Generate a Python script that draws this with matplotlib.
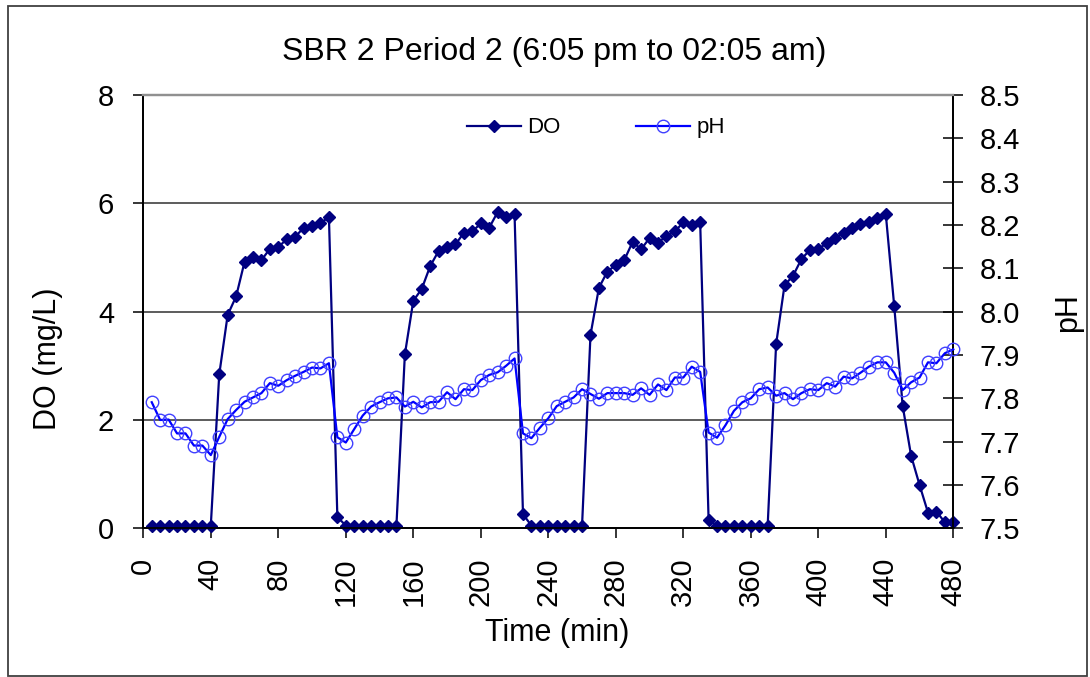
import matplotlib
matplotlib.use("Agg")
import matplotlib.pyplot as plt
from matplotlib.patches import Rectangle
from matplotlib.ticker import FormatStrFormatter

plt.rcParams['font.family'] = ['Liberation Sans', 'DejaVu Sans']

# Sampling times (min), one reading every 5 minutes
time_min = list(range(5, 481, 5))

# Dissolved oxygen (mg/L)
do_mgL = [
    0.05, 0.05, 0.05, 0.05, 0.05, 0.05, 0.05, 0.05,
    2.84, 3.94, 4.28, 4.92, 5.01, 4.95, 5.16, 5.19, 5.34, 5.38, 5.55, 5.59, 5.63, 5.75,
    0.21,
    0.05, 0.05, 0.05, 0.05, 0.05, 0.05, 0.05,
    3.21, 4.20, 4.42, 4.84, 5.12, 5.20, 5.24, 5.46, 5.48, 5.63, 5.55, 5.84, 5.74, 5.80,
    0.26,
    0.05, 0.05, 0.05, 0.05, 0.05, 0.05, 0.05,
    3.57, 4.44, 4.74, 4.86, 4.95, 5.29, 5.15, 5.36, 5.27, 5.40, 5.48, 5.65, 5.60, 5.65,
    0.15,
    0.05, 0.05, 0.05, 0.05, 0.05, 0.05, 0.05,
    3.40, 4.49, 4.66, 4.97, 5.14, 5.16, 5.26, 5.36, 5.46, 5.55, 5.61, 5.66, 5.73, 5.80,
    4.10, 2.26, 1.34, 0.80, 0.29, 0.31, 0.11, 0.12,
]

# pH
ph = [
    7.791, 7.750, 7.751, 7.719, 7.719, 7.691, 7.691, 7.669,
    7.711, 7.752, 7.773, 7.792, 7.802, 7.812, 7.835, 7.829, 7.842, 7.852, 7.861, 7.871, 7.869, 7.881,
    7.710, 7.698, 7.729, 7.760, 7.781, 7.791, 7.800, 7.802,
    7.781, 7.792, 7.779, 7.791, 7.792, 7.814, 7.798, 7.821, 7.819, 7.842, 7.854, 7.860, 7.875, 7.892,
    7.719, 7.708, 7.732, 7.754, 7.782, 7.792, 7.802, 7.821,
    7.810, 7.799, 7.812, 7.812, 7.812, 7.808, 7.823, 7.808, 7.832, 7.819, 7.848, 7.848, 7.873, 7.861,
    7.721, 7.709, 7.738, 7.771, 7.791, 7.800, 7.821, 7.825,
    7.806, 7.812, 7.798, 7.812, 7.821, 7.819, 7.835, 7.827, 7.850, 7.846, 7.859, 7.873, 7.883, 7.883,
    7.859, 7.819, 7.837, 7.848, 7.883, 7.881, 7.904, 7.913,
]

x_ticks = list(range(0, 481, 40))
do_ticks = [0, 2, 4, 6, 8]
ph_ticks = [7.5, 7.6, 7.7, 7.8, 7.9, 8.0, 8.1, 8.2, 8.3, 8.4, 8.5]

W, H = 1090, 677
fig = plt.figure(figsize=(W / 100, H / 100), dpi=100)

# outer chart frame
fig.patches.append(Rectangle((8 / W, 1 / H), (1087 - 8) / W, (676 - 6) / H,
                             transform=fig.transFigure, fill=False,
                             edgecolor='#404040', linewidth=1.3))

left, right, top, bottom = 143.3, 953.3, 95.0, 528.3
ax = fig.add_axes([left / W, 1 - bottom / H, (right - left) / W, (bottom - top) / H])
ax2 = ax.twinx()

navy = '#000080'
blue = '#0000FF'

l_do, = ax.plot(time_min, do_mgL, color=navy, lw=1.6, marker='D', ms=6.0,
                markerfacecolor=navy, markeredgecolor=navy, clip_on=False, zorder=3)
l_ph, = ax2.plot(time_min, ph, color=blue, lw=1.6, marker='o', ms=9,
                 markerfacecolor='none', markeredgecolor='#4040FF', markeredgewidth=1.0,
                 clip_on=False, zorder=3)

ax.set_xlim(0, 480)
ax.set_ylim(0, 8)
ax2.set_ylim(7.5, 8.5)

ax.set_xticks(x_ticks)
ax.set_yticks(do_ticks)
ax2.set_yticks(ph_ticks)
ax2.yaxis.set_major_formatter(FormatStrFormatter('%.1f'))

for y in do_ticks[1:-1]:
    ax.axhline(y, color='#303030', lw=1.1, zorder=1)

ax.tick_params(axis='x', direction='out', length=7, width=1.1, pad=14,
               labelsize=21, labelrotation=90)
ax.tick_params(axis='y', direction='out', length=7, width=1.1, pad=14, labelsize=21)
ax2.tick_params(axis='y', direction='inout', length=14, width=1.1, pad=12, labelsize=21)

for a in (ax, ax2):
    for s in ('left', 'right', 'bottom'):
        a.spines[s].set_color('black')
        a.spines[s].set_linewidth(1.3)
    a.spines['top'].set_color('#909090')
    a.spines['top'].set_linewidth(1.6)

fig.text(554 / W, 1 - 52 / H, 'SBR 2 Period 2 (6:05 pm to 02:05 am)',
         ha='center', va='center', fontsize=23)
fig.text(557 / W, 1 - 633 / H, 'Time (min)', ha='center', va='center', fontsize=22)
fig.text(48 / W, 1 - 359 / H, 'DO (mg/L)', ha='center', va='center',
         rotation=90, fontsize=22)
fig.text(1068 / W, 1 - 313 / H, 'pH', ha='center', va='center',
         rotation=90, fontsize=22)

ax2.legend([l_do, l_ph], ['DO', 'pH'], loc='center', bbox_to_anchor=(0.559, 0.924),
           ncol=2, frameon=False, fontsize=16, handlelength=2.4,
           handletextpad=0.3, columnspacing=3.4, borderpad=0)

fig.savefig('out.png', dpi=100)
